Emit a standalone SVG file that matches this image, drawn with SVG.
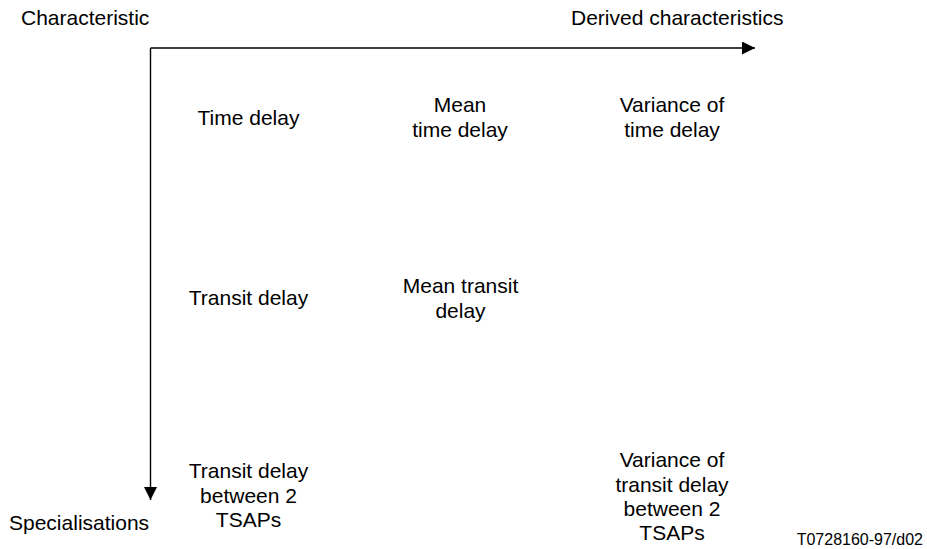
<svg xmlns="http://www.w3.org/2000/svg" width="927" height="549" viewBox="0 0 927 549">
  <style>
    text { font-family: "Liberation Sans", Arial, sans-serif; font-size: 21px; fill: #000; }
    .c { text-anchor: middle; }
    .ref { font-size: 16px; }
    .axis { stroke: #000; stroke-width: 1.4; fill: none; }
  </style>
  <defs>
    <marker id="head" markerUnits="userSpaceOnUse" markerWidth="14" markerHeight="13" refX="13" refY="6.5" orient="auto">
      <path d="M0,0 L13,6.5 L0,13 Z" fill="#000"/>
    </marker>
  </defs>

  <!-- axes -->
  <g id="connectors">
    <path class="axis" d="M150.5,48 H755" marker-end="url(#head)"/>
    <path class="axis" d="M150.5,48 V500" marker-end="url(#head)"/>
  </g>

  <!-- axis labels -->
  <g id="axis-characteristic"><text x="21" y="25">Characteristic</text></g>
  <g id="axis-derived"><text x="571" y="25">Derived characteristics</text></g>
  <g id="axis-specialisations"><text x="9" y="530">Specialisations</text></g>

  <!-- row 1 -->
  <g id="time-delay"><text class="c" x="248.5" y="125">Time delay</text></g>
  <g id="mean-time-delay">
    <text class="c" x="460" y="112">Mean</text>
    <text class="c" x="460" y="137">time delay</text>
  </g>
  <g id="variance-time-delay">
    <text class="c" x="672" y="112">Variance of</text>
    <text class="c" x="672" y="137">time delay</text>
  </g>

  <!-- row 2 -->
  <g id="transit-delay"><text class="c" x="248.5" y="305">Transit delay</text></g>
  <g id="mean-transit-delay">
    <text class="c" x="460.5" y="293">Mean transit</text>
    <text class="c" x="460.5" y="318">delay</text>
  </g>

  <!-- row 3 -->
  <g id="transit-delay-tsaps">
    <text class="c" x="248.5" y="478">Transit delay</text>
    <text class="c" x="248.5" y="502.5">between 2</text>
    <text class="c" x="248.5" y="527">TSAPs</text>
  </g>
  <g id="variance-transit-delay-tsaps">
    <text class="c" x="672" y="467">Variance of</text>
    <text class="c" x="672" y="491.5">transit delay</text>
    <text class="c" x="672" y="515.5">between 2</text>
    <text class="c" x="672" y="539.5">TSAPs</text>
  </g>

  <!-- figure reference -->
  <g id="figure-ref"><text class="ref" x="923" y="545" text-anchor="end">T0728160-97/d02</text></g>
</svg>
